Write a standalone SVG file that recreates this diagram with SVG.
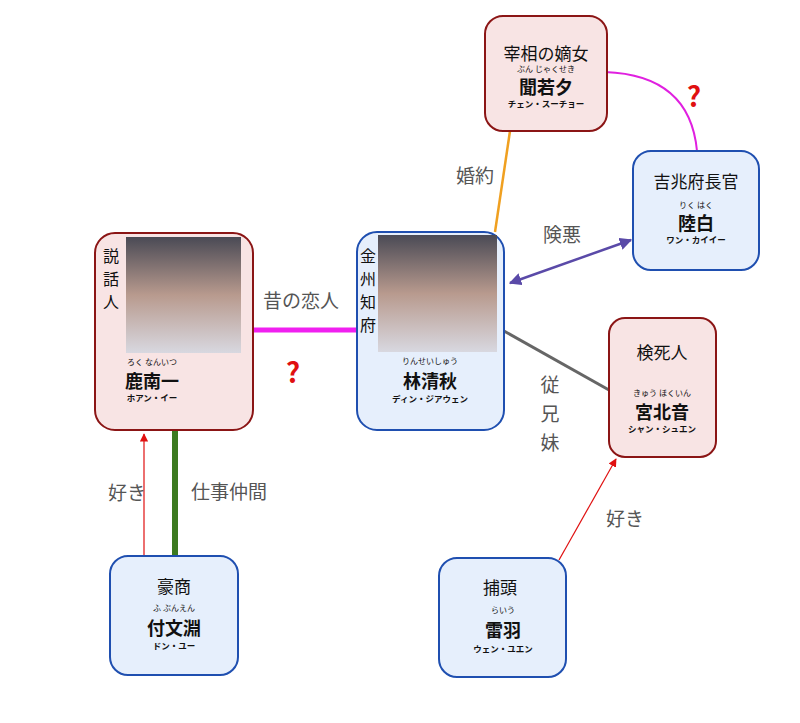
<svg xmlns="http://www.w3.org/2000/svg" width="800" height="723" viewBox="0 0 800 723">
<style>
text{font-family:"Noto Sans CJK JP","Noto Sans",sans-serif;text-anchor:middle;fill:#111}
.pink{fill:#f8e4e4;stroke:#8b1515;stroke-width:2}
.blue{fill:#e6effc;stroke:#1f4fb0;stroke-width:2}
.role{font-size:17px}
.vrole{font-size:16px}
.ruby{font-size:8px}
.name{font-size:18px;font-weight:bold}
.kana{font-size:8.5px;font-weight:bold}
.lbl{font-size:19px;fill:#555}
.q{font-size:28px;font-weight:bold;fill:#e01010}
.photo{fill:url(#ph)}
</style>
<defs>
<linearGradient id="ph" x1="0" y1="0" x2="0" y2="1"><stop offset="0" stop-color="#4a4a55"/><stop offset="0.5" stop-color="#b89a8e"/><stop offset="1" stop-color="#d8d8e0"/></linearGradient>
<marker id="ar" viewBox="0 0 10 10" refX="9" refY="5" markerWidth="7" markerHeight="7" orient="auto-start-reverse"><path d="M0,0L10,5L0,10z" fill="#e01010"/></marker>
<marker id="ap" viewBox="0 0 10 10" refX="9" refY="5" markerWidth="5" markerHeight="5" orient="auto-start-reverse"><path d="M0,0L10,5L0,10z" fill="#5a4aa8"/></marker>
</defs>
<g id="connectors" fill="none">
<line x1="510" y1="131" x2="495" y2="232" stroke="#f0a020" stroke-width="2.5"/>
<path d="M605,72 Q690,75 697,151" stroke="#e020e0" stroke-width="2"/>
<line x1="510" y1="283" x2="631" y2="240" stroke="#5a4aa8" stroke-width="2.5" marker-start="url(#ap)" marker-end="url(#ap)"/>
<line x1="253" y1="330" x2="357" y2="330" stroke="#f020f0" stroke-width="5"/>
<line x1="504" y1="331" x2="609" y2="390" stroke="#666" stroke-width="3"/>
<line x1="175" y1="430" x2="175" y2="556" stroke="#3c7a20" stroke-width="6"/>
<line x1="144" y1="556" x2="144" y2="434" stroke="#e01010" stroke-width="1.2" marker-end="url(#ar)"/>
<line x1="559" y1="560" x2="616" y2="459" stroke="#e01010" stroke-width="1.2" marker-end="url(#ar)"/>
<text x="475" y="183" class="lbl">婚約</text>
<text x="694" y="107" class="q">?</text>
<text x="562" y="242" class="lbl">険悪</text>
<text x="301" y="308" class="lbl">昔の恋人</text>
<text x="293" y="383" class="q">?</text>
<text x="550" y="392" class="lbl">従</text>
<text x="550" y="421" class="lbl">兄</text>
<text x="550" y="450" class="lbl">妹</text>
<text x="229" y="499" class="lbl">仕事仲間</text>
<text x="127" y="500" class="lbl">好き</text>
<text x="625" y="526" class="lbl">好き</text>
</g>
<g id="n1"><rect x="485" y="16" width="122" height="115" rx="18" class="pink"/>
<text x="546" y="60" class="role">宰相の嫡女</text><text x="546" y="72" class="ruby">ぶん じゃくせき</text><text x="546" y="94" class="name">聞若夕</text><text x="546" y="107" class="kana">チェン・スーチョー</text></g>
<g id="n2"><rect x="633" y="151" width="126" height="119" rx="18" class="blue"/>
<text x="696" y="188" class="role">吉兆府長官</text><text x="696" y="208" class="ruby">りく はく</text><text x="696" y="230" class="name">陸白</text><text x="696" y="243" class="kana">ワン・カイイー</text></g>
<g id="n3"><rect x="95" y="233" width="158" height="197" rx="20" class="pink"/>
<rect x="126" y="237" width="115" height="116" class="photo"/>
<text x="111" y="262" class="vrole">説</text><text x="111" y="285" class="vrole">話</text><text x="111" y="308" class="vrole">人</text>
<text x="152" y="365" class="ruby">ろく なんいつ</text><text x="152" y="388" class="name">鹿南一</text><text x="152" y="401" class="kana">ホアン・イー</text></g>
<g id="n4"><rect x="357" y="232" width="147" height="198" rx="20" class="blue"/>
<rect x="378" y="235" width="119" height="117" class="photo"/>
<text x="368" y="262" class="vrole">金</text><text x="368" y="285" class="vrole">州</text><text x="368" y="308" class="vrole">知</text><text x="368" y="331" class="vrole">府</text>
<text x="430" y="364" class="ruby">りんせいしゅう</text><text x="430" y="388" class="name">林清秋</text><text x="430" y="402" class="kana">ディン・ジアウェン</text></g>
<g id="n5"><rect x="609" y="318" width="107" height="139" rx="16" class="pink"/>
<text x="662" y="359" class="role">検死人</text><text x="662" y="396" class="ruby">きゅう ほくいん</text><text x="662" y="419" class="name">宮北音</text><text x="662" y="432" class="kana">シャン・シュエン</text></g>
<g id="n6"><rect x="110" y="556" width="128" height="119" rx="18" class="blue"/>
<text x="174" y="593" class="role">豪商</text><text x="174" y="611" class="ruby">ふ ぶんえん</text><text x="174" y="635" class="name">付文淵</text><text x="174" y="649" class="kana">ドン・ユー</text></g>
<g id="n7"><rect x="439" y="558" width="127" height="119" rx="18" class="blue"/>
<text x="500" y="594" class="role">捕頭</text><text x="503" y="613" class="ruby">らいう</text><text x="503" y="637" class="name">雷羽</text><text x="503" y="652" class="kana">ウェン・ユエン</text></g>
</svg>
